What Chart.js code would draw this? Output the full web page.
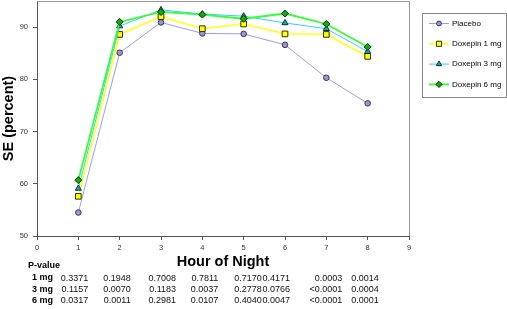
<!DOCTYPE html>
<html>
<head>
<meta charset="utf-8">
<script src="https://cdn.jsdelivr.net/npm/chart.js@4/dist/chart.umd.min.js"></script>
<style>
  html, body { margin: 0; padding: 0; background: #fff; }
  #wrap { width: 507px; height: 309px; }
</style>
</head>
<body>
<div id="wrap"><canvas id="chart" width="507" height="309"></canvas></div>
<script>
// hours of the night
const hours = [1, 2, 3, 4, 5, 6, 7, 8];

// sleep efficiency (percent) per group
const placebo = [54.5, 85.1, 90.9, 88.8, 88.7, 86.6, 80.3, 75.4];
const doxepin1 = [57.6, 88.6, 92.0, 89.7, 90.6, 88.7, 88.6, 84.4];
const doxepin3 = [59.1, 90.2, 93.3, 92.5, 92.1, 90.8, 89.7, 85.3];
const doxepin6 = [60.7, 91.0, 92.9, 92.4, 91.6, 92.6, 90.6, 86.2];

const seriesNames = ['Placebo', 'Doxepin 1 mg', 'Doxepin 3 mg', 'Doxepin 6 mg'];

// p-value table under the axis
const pHeader = 'P-value';
const pRowLabels = ['1 mg', '3 mg', '6 mg'];
const p1mg = ['0.3371', '0.1948', '0.7008', '0.7811', '0.7170', '0.4171', '0.0003', '0.0014'];
const p3mg = ['0.1157', '0.0070', '0.1183', '0.0037', '0.2778', '0.0766', '<0.0001', '0.0004'];
const p6mg = ['0.0317', '0.0011', '0.2981', '0.0107', '0.4040', '0.0047', '<0.0001', '0.0001'];

// the table columns don't sit exactly under the ticks, nudge them (px, right edge)
const colNudge = [10, 11, 15, 16, 18, 5, 16, 11];

const FONT = "'Liberation Sans', Arial, sans-serif";

function pts(vals) {
    return hours.map((h, i) => ({x: h, y: vals[i]}));
}

const datasets = [
    {label: seriesNames[0], data: pts(placebo), borderColor: '#9999ff', borderWidth: 1,
     pointStyle: 'circle', pointRadius: 2.8, pointBackgroundColor: '#9999cc', pointBorderColor: '#333366', order: 3},
    {label: seriesNames[1], data: pts(doxepin1), borderColor: '#ffff33', borderWidth: 1.8,
     pointStyle: 'rect', pointRadius: 4, pointBackgroundColor: '#ffff00', pointBorderColor: '#333300', order: 2},
    {label: seriesNames[2], data: pts(doxepin3), borderColor: '#33ccff', borderWidth: 1,
     pointStyle: 'triangle', pointRadius: 3.5, pointBackgroundColor: '#22aaaa', pointBorderColor: '#003333', order: 1},
    {label: seriesNames[3], data: pts(doxepin6), borderColor: '#33ff33', borderWidth: 1.8,
     pointStyle: 'rectRot', pointRadius: 3.5, pointBackgroundColor: '#11aa11', pointBorderColor: '#003300', order: 0},
];
datasets.forEach(d => { d.pointBorderWidth = 1; d.fill = false; d.tension = 0; });

// chart.js keeps some room above the plot, the original plot goes right up to the top
const fixTop = {
    id: 'fixTop',
    afterLayout(chart) {
        const a = chart.chartArea;
        a.top = 1;
        a.height = a.bottom - a.top;
        const y = chart.scales.y;
        y.top = 1;
        y.height = y.bottom - y.top;
        y.configure();
    }
};

// plot frame (top + right edges), boxed legend and p-value table
const extras = {
    id: 'extras',
    afterDraw(chart) {
        const ctx = chart.ctx;
        const a = chart.chartArea;
        ctx.save();
        ctx.strokeStyle = '#999';
        ctx.lineWidth = 1;
        ctx.beginPath();
        ctx.moveTo(a.left, a.top + 0.5);
        ctx.lineTo(a.right + 0.5, a.top + 0.5);
        ctx.lineTo(a.right + 0.5, a.bottom);
        ctx.stroke();

        // legend
        const bx = a.right + 13, by = 13, bw = 507 - bx - 1, bh = 84;
        ctx.strokeStyle = '#888';
        ctx.strokeRect(bx + 0.5, by + 0.5, bw, bh);
        ctx.font = '8px ' + FONT;
        ctx.textBaseline = 'middle';
        ctx.textAlign = 'left';
        chart.data.datasets.forEach((ds, i) => {
            const y = by + 10.5 + i * 20.3;
            ctx.strokeStyle = ds.borderColor;
            ctx.lineWidth = ds.borderWidth;
            ctx.beginPath();
            ctx.moveTo(bx + 7, y);
            ctx.lineTo(bx + 27, y);
            ctx.stroke();
            ctx.fillStyle = ds.pointBackgroundColor;
            ctx.strokeStyle = ds.pointBorderColor;
            ctx.lineWidth = 1;
            Chart.helpers.drawPoint(ctx, {pointStyle: ds.pointStyle, radius: ds.pointRadius - 0.4, borderWidth: 1}, bx + 17, y);
            ctx.fillStyle = '#000';
            ctx.fillText(ds.label, bx + 30, y);
        });

        // p-value table
        const xs = chart.scales.x;
        ctx.fillStyle = '#000';
        ctx.font = 'bold 9px ' + FONT;
        ctx.fillText(pHeader, 28, 266);
        const rows = [p1mg, p3mg, p6mg];
        const rowY = [278.5, 290, 301];
        rows.forEach((vals, r) => {
            ctx.font = 'bold 9px ' + FONT;
            ctx.textAlign = 'left';
            ctx.fillStyle = '#000';
            ctx.fillText(pRowLabels[r], 32, rowY[r] - 0.5);
            ctx.font = '9px ' + FONT;
            ctx.textAlign = 'right';
            ctx.fillStyle = '#111';
            vals.forEach((v, c) => {
                ctx.fillText(v, xs.getPixelForValue(hours[c]) + colNudge[c], rowY[r]);
            });
        });
        ctx.restore();
    }
};

new Chart(document.getElementById('chart'), {
    type: 'line',
    data: {datasets: datasets},
    options: {
        responsive: false,
        animation: false,
        events: [],
        layout: {padding: {top: 1, right: 98, left: 0, bottom: 0}},
        plugins: {legend: {display: false}, tooltip: {enabled: false}},
        scales: {
            x: {
                type: 'linear', min: 0, max: 9,
                ticks: {stepSize: 1, color: '#333', font: {family: FONT, size: 7.5}, padding: 3, maxRotation: 0},
                grid: {drawOnChartArea: false, tickLength: 4, tickColor: '#555'},
                border: {color: '#555', width: 1},
                title: {display: true, text: 'Hour of Night', color: '#000',
                        font: {family: FONT, size: 14.5, weight: 'bold'}, padding: {top: 0, bottom: 38}},
                afterFit(s) { s.height = 73; }
            },
            y: {
                min: 50, max: 95,
                ticks: {stepSize: 10, color: '#333', font: {family: FONT, size: 7.5}, padding: 5},
                afterBuildTicks(s) { s.ticks = s.ticks.filter(t => t.value <= 90); },
                grid: {drawOnChartArea: false, tickLength: 4, tickColor: '#555'},
                border: {color: '#555', width: 1},
                title: {display: true, text: 'SE (percent)', color: '#000',
                        font: {family: FONT, size: 14.5, weight: 'bold'}, padding: 0},
                afterFit(s) { s.width = 37; }
            }
        }
    },
    plugins: [fixTop, extras]
});
</script>
</body>
</html>
